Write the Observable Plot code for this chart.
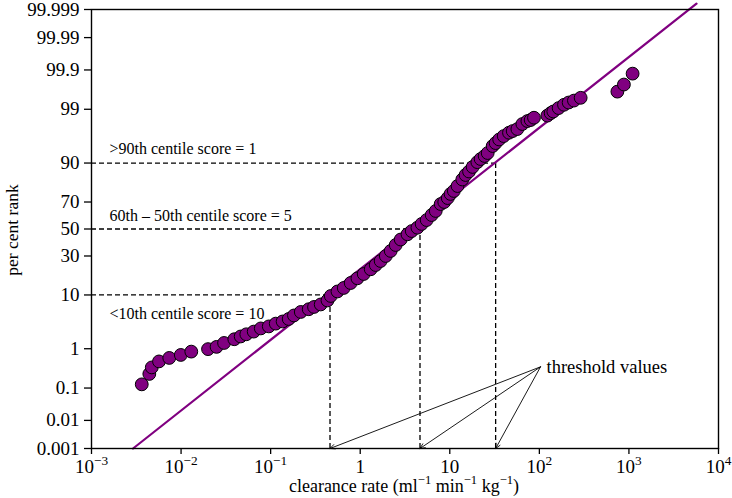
<!DOCTYPE html>
<html><head><meta charset="utf-8">
<script src="https://cdn.jsdelivr.net/npm/d3@7"></script>
<script src="https://cdn.jsdelivr.net/npm/@observablehq/plot@0.6"></script>
<style>
body{margin:0;background:#fff}
#chart svg{font-family:"Liberation Serif","Times New Roman",serif;overflow:visible}
</style>
</head><body><div id="chart"></div>
<script>
// ---- data ----
const clearance = [0.00364,0.00442,0.00471,0.00567,0.00738,0.00993,0.0130,0.0200,0.0249,0.0302,0.0393,0.0463,0.0535,0.0647,0.0776,0.0953,0.114,0.136,0.159,0.182,0.217,0.266,0.305,0.362,0.431,0.469,0.557,0.655,0.783,0.931,1.094,1.31,1.49,1.69,1.93,2.19,2.49,2.83,3.37,3.76,4.35,4.85,5.52,6.28,6.97,7.91,8.67,9.49,10.2,11.1,12.2,13.8,15.0,16.4,18.0,20.3,22.1,24.5,26.5,30.1,32.5,35.6,40.0,45.8,50.4,56.8,64.6,73.5,80.0,87.1,122.8,133.7,143.2,164.1,188.4,212.3,243.2,289.1,743,879,1099];
const rankPct = [0.127,0.243,0.358,0.504,0.612,0.72,0.86,0.98,1.10,1.34,1.61,1.84,2.04,2.31,2.67,2.92,3.30,3.62,4.02,4.65,5.35,5.95,6.49,7.13,8.25,9.66,11.25,12.6,14.7,16.9,19.1,21.7,24.2,26.7,30.0,33.5,37.8,41.9,45.9,48.4,51.0,53.9,56.9,60.7,63.7,68.6,70.0,72.6,75.2,77.0,79.8,83.2,85.3,86.8,88.6,90.3,91.3,92.2,93.0,94.65,95.25,95.9,96.45,96.93,97.15,97.39,97.93,98.20,98.29,98.47,98.62,98.78,98.88,99.06,99.21,99.30,99.37,99.46,99.62,99.75,99.873];

// fitted log-normal reference line (end points)
const fitX = [0.00291, 5680];
const fitP = [0.001, 99.9994];

// centile thresholds
const thresholdP = [10, 50, 90];
const thresholdX = [0.46, 4.65, 32.5];
const centileLabels = ["<10th centile score = 10", "60th \u2013 50th centile score = 5", ">90th centile score = 1"];

// annotation
const arrowLabel = "threshold values";
const arrowFromX = [103];
const arrowFromP = [0.37];

// axes
const xDomain = [1e-3, 1e4];
const xTicks = [1e-3, 1e-2, 1e-1, 1, 10, 100, 1000, 10000];
const xTickLabels = ["10^\u22123", "10^\u22122", "10^\u22121", "1", "10", "10^2", "10^3", "10^4"];
const pDomain = [0.001, 99.999];
const pTicks = [0.001, 0.01, 0.1, 1, 10, 30, 50, 70, 90, 99, 99.9, 99.99, 99.999];
const pTickLabels = ["0.001", "0.01", "0.1", "1", "10", "30", "50", "70", "90", "99", "99.9", "99.99", "99.999"];
const xTitle = "clearance rate (ml^{\u22121} min^{\u22121} kg^{\u22121})";
const yTitle = "per cent rank";

// ---- probit (inverse normal CDF, Acklam) ----
function probit(p){
  const a=[-3.969683028665376e+01,2.209460984245205e+02,-2.759285104469687e+02,1.383577518672690e+02,-3.066479806614716e+01,2.506628277459239e+00];
  const b=[-5.447609879822406e+01,1.615858368580409e+02,-1.556989798598866e+02,6.680131188771972e+01,-1.328068155288572e+01];
  const c=[-7.784894002430293e-03,-3.223964580411365e-01,-2.400758277161838e+00,-2.549732539343734e+00,4.374664141464968e+00,2.938163982698783e+00];
  const d=[7.784695709041462e-03,3.224671290700398e-01,2.445134137142996e+00,3.754408661907416e+00];
  const pl=0.02425, ph=1-pl; let q,r;
  if(p<pl){q=Math.sqrt(-2*Math.log(p));return (((((c[0]*q+c[1])*q+c[2])*q+c[3])*q+c[4])*q+c[5])/((((d[0]*q+d[1])*q+d[2])*q+d[3])*q+1);}
  if(p>ph){q=Math.sqrt(-2*Math.log(1-p));return -(((((c[0]*q+c[1])*q+c[2])*q+c[3])*q+c[4])*q+c[5])/((((d[0]*q+d[1])*q+d[2])*q+d[3])*q+1);}
  q=p-0.5;r=q*q;return (((((a[0]*r+a[1])*r+a[2])*r+a[3])*r+a[4])*r+a[5])*q/(((((b[0]*r+b[1])*r+b[2])*r+b[3])*r+b[4])*r+1);
}
const z = pct => probit(pct/100);

const points = clearance.map((x,i)=>({x, z: z(rankPct[i])}));
const fit = fitX.map((x,i)=>({x, z: z(fitP[i])}));
const thr = thresholdX.map((x,i)=>({x, z: z(thresholdP[i]), label: centileLabels[i]}));
const zMin = z(pDomain[0]);
const zTicks = pTicks.map(z);
const from = {x: arrowFromX[0], z: z(arrowFromP[0])};

const purple = "#800080";
const dash = "5,3";
const tickFont = 19;

const chart = Plot.plot({
  width: 732, height: 498,
  marginLeft: 91, marginRight: 14, marginTop: 9, marginBottom: 50,
  style: {fontFamily: '"Liberation Serif","Times New Roman",serif', fontSize: "17px", color: "black", background: "white", overflow: "visible"},
  x: {type: "log", domain: xDomain, label: null, axis: null},
  y: {type: "linear", domain: [z(pDomain[0]), z(pDomain[1])], label: null, axis: null},
  marks: [
    Plot.axisX(xTicks, {tickFormat: () => "", tickSize: 6, strokeWidth: 1.3, label: null}),
    Plot.axisY(zTicks, {tickFormat: () => "", tickSize: 7, strokeWidth: 1.3, label: null}),
    // tick labels
    Plot.text(zTicks, {y: d => d, text: (d, i) => pTickLabels[i], frameAnchor: "left", textAnchor: "end", dx: -12, lineAnchor: "middle", fontSize: tickFont}),
    Plot.text(xTicks, {x: d => d, text: (d, i) => xTickLabels[i], frameAnchor: "bottom", textAnchor: "middle", dy: 11, lineAnchor: "top", fontSize: tickFont}),
    // dashed threshold guides
    Plot.ruleY(thr, {y: "z", x1: xDomain[0], x2: "x", stroke: "black", strokeWidth: 1.3, strokeDasharray: dash}),
    Plot.ruleX(thr, {x: "x", y1: zMin, y2: "z", stroke: "black", strokeWidth: 1.3, strokeDasharray: dash}),
    // fitted line
    Plot.line(fit, {x: "x", y: "z", stroke: purple, strokeWidth: 2.2}),
    // data
    Plot.dot(points, {x: "x", y: "z", r: 6.4, fill: purple, stroke: "black", strokeWidth: 1}),
    // centile labels
    Plot.text([thr[0]], {y: "z", text: "label", frameAnchor: "left", textAnchor: "start", dx: 18, dy: 24, lineAnchor: "bottom", fontSize: 16}),
    Plot.text([thr[1]], {y: "z", text: "label", frameAnchor: "left", textAnchor: "start", dx: 18, dy: -8, lineAnchor: "bottom", fontSize: 16}),
    Plot.text([thr[2]], {y: "z", text: "label", frameAnchor: "left", textAnchor: "start", dx: 18, dy: -9, lineAnchor: "bottom", fontSize: 16}),
    // arrows
    Plot.arrow(thr, {x1: () => from.x, y1: () => from.z, x2: "x", y2: () => zMin, stroke: "black", strokeWidth: 0.9, headLength: 9, headAngle: 50}),
    Plot.text([from], {x: "x", y: "z", text: () => arrowLabel, textAnchor: "start", dx: 6, fontSize: 18.5}),
    Plot.frame({stroke: "black", strokeWidth: 1.4})
  ]
});

const svg = d3.select(chart);

// superscripts in x tick labels (strings written as base^exponent)
svg.selectAll("text").filter(function(){ return /^10\^/.test(this.textContent) && !this.querySelector("tspan"); }).each(function(){
  const [b, e] = this.textContent.split("^");
  this.textContent = "";
  d3.select(this).append("tspan").text(b);
  d3.select(this).append("tspan").attr("dy", -8).style("font-size", (tickFont * 0.7) + "px").text(e);
});

// axis titles
function richText(sel, str, size){
  const re = /\^\{([^}]*)\}/g; let last = 0, m, up = false;
  const shift = Math.round(size * 0.42);
  while ((m = re.exec(str))) {
    const pre = str.slice(last, m.index);
    if (pre) { sel.append("tspan").attr("dy", up ? shift : null).text(pre); up = false; }
    sel.append("tspan").attr("dy", -shift).style("font-size", (size * 0.7) + "px").text(m[1]);
    up = true; last = re.lastIndex;
  }
  const rest = str.slice(last);
  if (rest) sel.append("tspan").attr("dy", up ? shift : null).text(rest);
}
const xt = svg.append("text").attr("x", 404).attr("y", 492).attr("text-anchor", "middle").style("font-size", "18px").attr("fill", "black");
richText(xt, xTitle, 18);
svg.append("text").attr("transform", "translate(18,230) rotate(-90)").attr("text-anchor", "middle").style("font-size", "17.5px").attr("fill", "black").text(yTitle);

document.getElementById("chart").appendChild(chart);
</script>
</body></html>
